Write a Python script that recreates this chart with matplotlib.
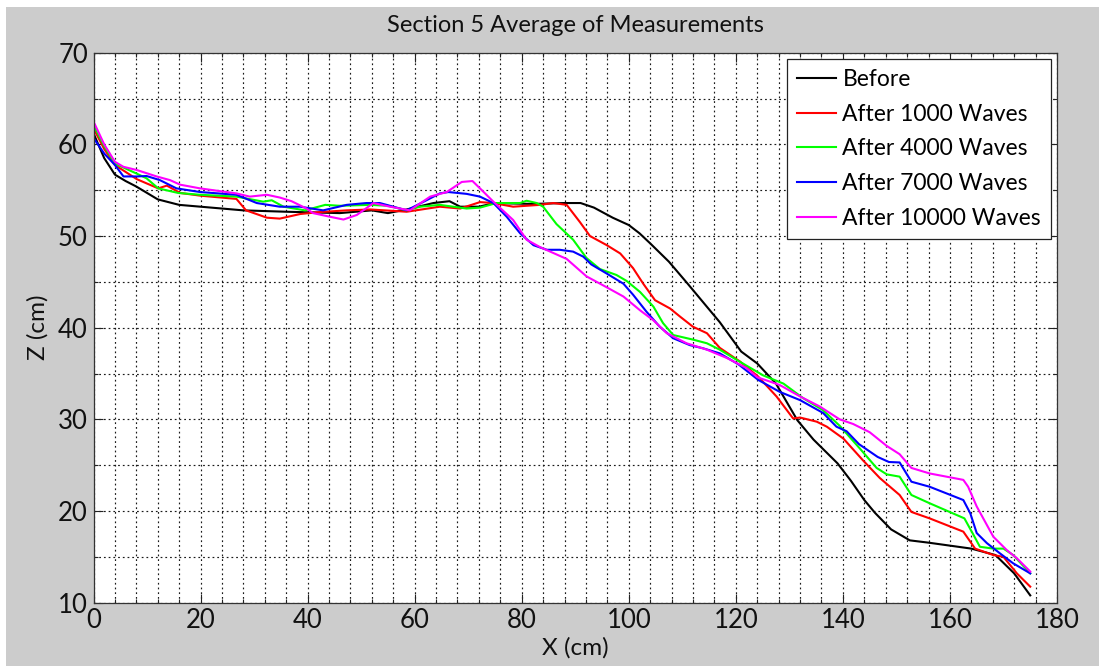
"""Section 5 average of measurements - profile plot"""
import matplotlib
matplotlib.use('Agg')
import matplotlib.pyplot as plt
from matplotlib.patches import Rectangle
from matplotlib.ticker import MultipleLocator

plt.rcParams['font.family'] = ['Lato', 'DejaVu Sans']

# profile data (cm)
before_x = [0, 2, 4, 6, 8, 10, 12, 16, 20, 28, 36, 46, 52, 55, 58.5, 63.5, 66.5, 68.5, 72, 75,
            82, 88, 91, 93.5, 97, 100, 102, 104, 107.5, 111, 115, 117, 121, 124, 127.5, 131.5,
            134.5, 139, 141.5, 144, 146, 149, 152.5, 156, 164, 168.5, 172, 175]
before_z = [61.2, 58.5, 56.7, 56.0, 55.4, 54.7, 54.0, 53.4, 53.2, 52.8, 52.65, 52.5, 52.8, 52.5,
            52.9, 53.6, 53.8, 53.2, 53.2, 53.6, 53.5, 53.6, 53.6, 53.1, 52.0, 51.2, 50.3, 49.2,
            47.2, 44.8, 42.0, 40.6, 37.4, 36.1, 33.9, 29.9, 27.8, 25.2, 23.3, 21.2, 19.8, 18.0,
            16.8, 16.55, 15.9, 15.2, 13.2, 10.8]

w1000_x = [0, 2, 4, 8.1, 12.1, 13.7, 16.2, 20, 26.7, 28.5, 32.4, 34.8, 38.6, 42, 47.3, 51.7,
           58.5, 64.7, 68.5, 72.2, 74.7, 78.4, 83.4, 85.9, 88.4, 90.9, 92.75, 95.9, 98.4, 100.8,
           102.7, 104.9, 107.7, 109.6, 112, 114.6, 117, 120.8, 124.2, 127.6, 130.7, 132, 135.1,
           137, 140.1, 143.8, 146.9, 150.6, 152.8, 156.2, 162.5, 164.7, 168.1, 170, 172.5, 175]
w1000_z = [61.75, 59.5, 57.75, 56.2, 55.2, 55.5, 54.7, 54.4, 54.05, 52.8, 52.0, 51.9, 52.4, 52.6,
           52.8, 52.9, 52.65, 53.2, 53.0, 53.7, 53.6, 53.2, 53.4, 53.6, 53.4, 51.5, 50.0, 49.0,
           48.1, 46.5, 44.8, 43.0, 42.1, 41.2, 40.1, 39.4, 37.8, 36.3, 34.65, 32.5, 30.1, 30.2,
           29.75, 29.2, 27.9, 25.5, 23.6, 21.75, 19.9, 19.2, 17.75, 15.9, 15.2, 15.0, 13.2, 11.75]

w4000_x = [0, 2, 4, 8.1, 9.9, 12.1, 15.8, 19.9, 26.7, 31.7, 33.3, 35.5, 39.5, 43.3, 46, 51.7,
           55, 58.5, 61, 64.7, 67.2, 69.7, 72.2, 75.3, 79.7, 80.9, 82.8, 84, 86.5, 89.6, 92.1,
           94.6, 97.7, 99.6, 102.1, 104.6, 106.4, 108.3, 112, 114.6, 117, 121, 125.1, 128.9,
           132.6, 136.3, 139.4, 143.2, 146.3, 148.2, 150.6, 152.8, 156.2, 162.7, 164.4, 165.6,
           168.1, 170, 171.8, 175]
w4000_z = [62.1, 59.8, 57.9, 56.8, 56.3, 55.2, 54.7, 54.5, 54.3, 53.75, 53.9, 53.2, 52.8, 53.4,
           53.3, 53.4, 53.3, 52.8, 53.2, 53.4, 53.2, 53.0, 53.1, 53.6, 53.6, 53.85, 53.6, 53.2,
           51.3, 49.6, 47.6, 46.4, 45.75, 45.1, 43.9, 42.3, 40.5, 39.2, 38.7, 38.3, 37.6, 36.2,
           34.8, 33.9, 32.3, 31.0, 29.3, 26.8, 24.7, 24.0, 23.75, 21.75, 20.85, 19.2, 17.4, 16.1,
           15.9, 15.9, 15.2, 13.2]

w7000_x = [0, 2, 4, 5.6, 8.1, 9.9, 12.4, 15.5, 19.9, 26.7, 30.5, 34.8, 38.6, 42.9, 47.3, 51,
           53.5, 56, 58.5, 62.2, 64.7, 66.3, 69.7, 72.2, 74.7, 77.2, 79.7, 82.2, 84.7, 87.1, 89.6,
           91.5, 93, 95.9, 99, 100.8, 103.3, 105.8, 108.3, 111.4, 113.9, 117, 120.5, 124.2,
           128.2, 132, 136.3, 138.8, 140.7, 143, 146.5, 148.6, 150.6, 152.8, 156.2, 162.5, 163.8,
           165, 166.9, 169.3, 171.8, 175]
w7000_z = [60.7, 59.0, 57.75, 56.5, 56.5, 56.55, 56.1, 55.2, 54.8, 54.5, 53.6, 53.2, 53.2, 52.8,
           53.4, 53.6, 53.6, 53.2, 52.8, 53.9, 54.65, 54.8, 54.6, 54.3, 53.6, 52.1, 50.3, 49.0,
           48.5, 48.5, 48.3, 47.75, 46.9, 45.9, 44.8, 43.6, 41.75, 40.1, 38.85, 38.1, 37.75,
           37.2, 36.0, 34.3, 33.0, 32.1, 30.7, 29.2, 28.7, 27.3, 25.9, 25.35, 25.3, 23.2, 22.65,
           21.2, 19.75, 17.6, 16.5, 15.4, 14.3, 13.2]

w10000_x = [0, 2, 4, 5.6, 8.1, 11.8, 14.3, 16.2, 19.9, 26.7, 29.2, 32.4, 34.8, 37, 39.8, 41,
            44.2, 46.7, 49.2, 52.3, 55.4, 59.1, 62.9, 66, 68.8, 70.8, 72.2, 74.7, 78.4, 80.9,
            83.4, 88.4, 92.1, 95.9, 99, 102.1, 104.6, 107.1, 110.8, 114.6, 118.3, 122, 124,
            128.2, 132, 135.7, 139.4, 141.9, 145, 148.2, 150.6, 152.8, 156.2, 162.5, 163.4, 165,
            168.1, 170.6, 172.5, 175]
w10000_z = [62.5, 60.0, 58.1, 57.55, 57.2, 56.5, 56.1, 55.6, 55.2, 54.65, 54.3, 54.5, 54.2, 53.8,
            53.0, 52.5, 52.1, 51.8, 52.3, 53.6, 53.2, 52.8, 54.3, 54.8, 55.9, 56.0, 55.2, 53.75,
            51.75, 49.6, 48.8, 47.5, 45.6, 44.4, 43.4, 41.9, 40.8, 39.4, 38.3, 37.6, 36.7, 35.6,
            34.6, 33.75, 32.5, 31.4, 30.0, 29.5, 28.6, 27.1, 26.2, 24.7, 24.1, 23.4, 22.65, 20.5,
            17.2, 15.75, 14.85, 13.4]

labels = ['Before', 'After 1000 Waves', 'After 4000 Waves', 'After 7000 Waves',
          'After 10000 Waves']
colors = ['k', '#ff0000', '#00ff00', '#0000ff', '#ff00ff']

fig = plt.figure(figsize=(10.99, 6.66), dpi=100, facecolor='white')
# grey MATLAB-style figure panel with a thin white rim on top and left
fig.patches.append(Rectangle((6 / 1099, 0), 1, 1 - 7 / 666, transform=fig.transFigure,
                             facecolor='#cccccc', edgecolor='none', zorder=-10))
ax = fig.add_axes([93.5 / 1099, 1 - 602.7 / 666, (1057 - 93.5) / 1099, 550 / 666])
ax.set_facecolor('white')

series = [(before_x, before_z), (w1000_x, w1000_z), (w4000_x, w4000_z),
          (w7000_x, w7000_z), (w10000_x, w10000_z)]
for (xs, zs), lab, col in zip(series, labels, colors):
    ax.plot(xs, zs, color=col, lw=1.5, label=lab)

ax.set_xlim(0, 180)
ax.set_ylim(10, 70)
ax.xaxis.set_major_locator(MultipleLocator(20))
ax.xaxis.set_minor_locator(MultipleLocator(4))
ax.yaxis.set_major_locator(MultipleLocator(10))
ax.yaxis.set_minor_locator(MultipleLocator(5))

dots = (0, (1.5, 2.5))
ax.grid(True, which='both', color='#1a1a1a', lw=0.85, linestyle=dots)
ax.set_axisbelow(True)
ax.tick_params(which='both', direction='in', top=True, right=True, colors='#222222',
               labelcolor='#111111', labelsize=18.5)
ax.tick_params(which='major', length=6.5, width=0.8, pad=4)
ax.tick_params(which='minor', length=3, width=0.8)
for sp in ax.spines.values():
    sp.set_color('#333333')
    sp.set_linewidth(0.9)

ax.set_title('Section 5 Average of Measurements', fontsize=17, pad=15, color='#111111')
ax.set_xlabel('X (cm)', fontsize=17.5, labelpad=3, color='#111111')
ax.set_ylabel('Z (cm)', fontsize=17.5, labelpad=7, color='#111111')

leg = ax.legend(loc='upper right', bbox_to_anchor=(0.9935, 0.988), borderaxespad=0,
                fontsize=16.5, fancybox=False, framealpha=1, edgecolor='#222222',
                handlelength=1.7, handletextpad=0.3, labelspacing=0.6, borderpad=0.42)
leg.get_frame().set_linewidth(0.9)

fig.savefig('out.png', dpi=100, facecolor=fig.get_facecolor())
